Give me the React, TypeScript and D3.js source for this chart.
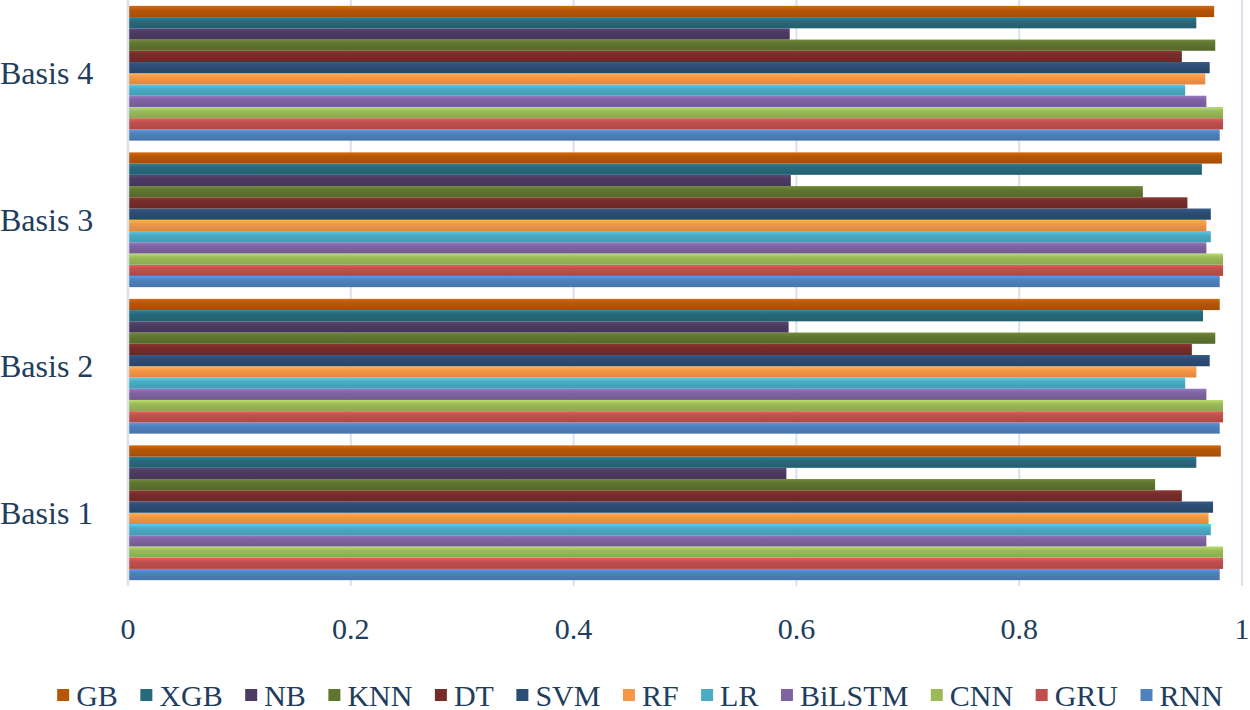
import React from 'react';
import * as d3 from 'd3';

// ==== data

const categories = ['Basis 4', 'Basis 3', 'Basis 2', 'Basis 1'];
const models = ['RNN', 'GRU', 'CNN', 'BiLSTM', 'LR', 'RF', 'SVM', 'DT', 'KNN', 'NB', 'XGB', 'GB'];
const ticks = [0, 0.2, 0.4, 0.6, 0.8, 1];

// values per model, order: Basis 1, Basis 2, Basis 3, Basis 4
const rnn = [0.980, 0.980, 0.980, 0.980];
const gru = [0.983, 0.983, 0.983, 0.983];
const cnn = [0.983, 0.983, 0.983, 0.983];
const bilstm = [0.968, 0.968, 0.968, 0.968];
const lr = [0.972, 0.949, 0.972, 0.949];
const rf = [0.970, 0.959, 0.968, 0.967];
const svm = [0.974, 0.971, 0.972, 0.971];
const dt = [0.946, 0.955, 0.951, 0.946];
const knn = [0.922, 0.976, 0.911, 0.976];
const nb = [0.591, 0.593, 0.595, 0.594];
const xgb = [0.959, 0.965, 0.964, 0.959];
const gb = [0.981, 0.980, 0.982, 0.975];

const basisOrder = ['Basis 1', 'Basis 2', 'Basis 3', 'Basis 4'];
const series = [rnn, gru, cnn, bilstm, lr, rf, svm, dt, knn, nb, xgb, gb];

const colors = [
    '#4F81BD', '#C0504D', '#9BBB59', '#8064A2', '#4BACC6', '#F79646',
    '#2C4D75', '#772C2A', '#5F7530', '#4D3B62', '#276A7C', '#B65708'
];

// ====

const FONT = '"Liberation Serif", "DejaVu Serif", serif';
const TEXT = '#213D5E';
const GRID = '#D9E1EC';

class App extends React.Component {
    node: SVGSVGElement | null = null;

    constructor(props: any) {
        super(props);
        this.drawChart = this.drawChart.bind(this);
    }

    drawChart() {
        const svg = d3.select(this.node);
        svg.selectAll('*').remove();

        const left = 128, right = 1242, top = 0, bottom = 586;

        const x = d3.scaleLinear().domain([0, 1]).range([left, right]);
        const y = d3.scaleBand().domain(categories).range([top, bottom]).paddingInner(0.08).paddingOuter(0.04);
        const sub = d3.scaleBand().domain(models.slice().reverse()).range([0, y.bandwidth()]);

        // gradients
        const defs = svg.append('defs');
        models.forEach((m, i) => {
            const c = d3.color(colors[i]);
            const g = defs.append('linearGradient')
                .attr('id', 'grad-' + m)
                .attr('x1', 0).attr('y1', 0).attr('x2', 0).attr('y2', 1);
            g.append('stop').attr('offset', '0%').attr('stop-color', c.brighter(0.5).formatHex());
            g.append('stop').attr('offset', '35%').attr('stop-color', colors[i]);
            g.append('stop').attr('offset', '100%').attr('stop-color', c.darker(0.3).formatHex());
        });

        // grid
        svg.append('g')
            .selectAll('line')
            .data(ticks.slice(1))
            .enter()
            .append('line')
            .attr('x1', (d) => x(d)).attr('x2', (d) => x(d))
            .attr('y1', top).attr('y2', bottom)
            .attr('stroke', GRID).attr('stroke-width', 2);

        // bars
        const rows = [];
        basisOrder.forEach((b, bi) => {
            models.forEach((m, mi) => {
                rows.push({ basis: b, model: m, value: series[mi][bi] });
            });
        });

        svg.append('g')
            .selectAll('rect')
            .data(rows)
            .enter()
            .append('rect')
            .attr('x', x(0))
            .attr('y', (d) => y(d.basis) + sub(d.model))
            .attr('width', (d) => x(d.value) - x(0))
            .attr('height', sub.bandwidth())
            .attr('fill', (d) => 'url(#grad-' + d.model + ')');

        // axis line
        svg.append('line')
            .attr('x1', x(0)).attr('x2', x(0))
            .attr('y1', top).attr('y2', bottom)
            .attr('stroke', GRID).attr('stroke-width', 2.5);

        // category labels
        svg.append('g')
            .selectAll('text')
            .data(categories)
            .enter()
            .append('text')
            .attr('x', 0)
            .attr('y', (d) => y(d) + y.bandwidth() / 2)
            .attr('dy', '0.35em')
            .attr('font-family', FONT)
            .attr('font-size', 32)
            .attr('fill', TEXT)
            .text((d) => d);

        // tick labels
        svg.append('g')
            .selectAll('text')
            .data(ticks)
            .enter()
            .append('text')
            .attr('x', (d) => x(d))
            .attr('y', 628)
            .attr('dy', '0.35em')
            .attr('text-anchor', 'middle')
            .attr('font-family', FONT)
            .attr('font-size', 30)
            .attr('fill', TEXT)
            .text((d) => String(d));

        // legend
        const legend = svg.append('g');
        const items = models.slice().reverse();
        const sq = 12, gapIn = 7, gapOut = 22.5;
        let cx = 0;
        items.forEach((m) => {
            const g = legend.append('g');
            g.append('rect')
                .attr('width', sq).attr('height', sq)
                .attr('y', -sq / 2)
                .attr('fill', colors[models.indexOf(m)]);
            const t = g.append('text')
                .attr('x', sq + gapIn)
                .attr('dy', '0.35em')
                .attr('font-family', FONT)
                .attr('font-size', 30)
                .attr('fill', TEXT)
                .text(m);
            const w = sq + gapIn + (t.node() as SVGTextElement).getComputedTextLength();
            g.attr('transform', 'translate(' + cx + ',0)');
            cx += w + gapOut;
        });
        const total = cx - gapOut;
        legend.attr('transform', 'translate(' + (640 - total / 2) + ',695)');
    }

    componentDidMount() {
        this.drawChart();
    }

    componentDidUpdate() {
        this.drawChart();
    }

    render() {
        return (
            <svg
                ref={(node) => { this.node = node; }}
                width={1250}
                height={710}
                style={{ position: 'absolute', left: 0, top: 0, background: '#fff' }}>
            </svg>
        );
    }
}

// ====

export default App;
